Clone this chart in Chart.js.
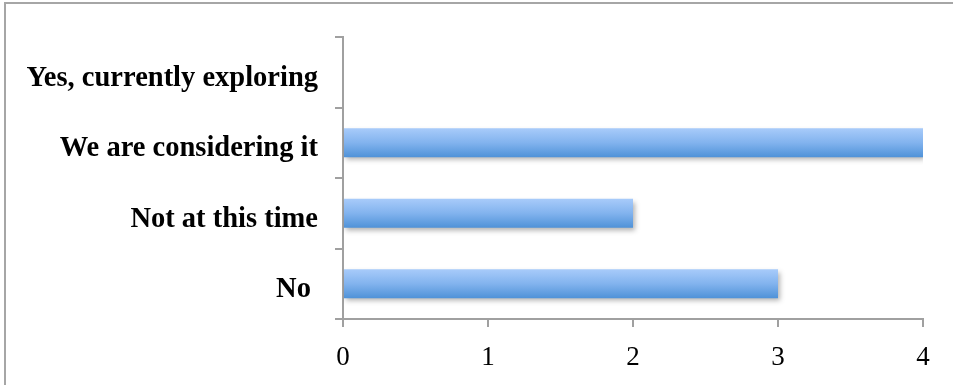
<!DOCTYPE html>
<html>
<head>
<meta charset="utf-8">
<script src="https://cdn.jsdelivr.net/npm/chart.js@4"></script>
<style>
  html, body { margin: 0; padding: 0; background: #fff; }
  #wrap { width: 953px; height: 385px; position: relative; }
</style>
</head>
<body>
<div id="wrap"><canvas id="myChart"></canvas></div>
<script>
// chart values
const categories = ['Yes, currently exploring', 'We are considering it', 'Not at this time', 'No '];
const counts = [0, 4, 2, 3];
const xTicks = [0, 1, 2, 3, 4];

const AXIS_GREY = '#a0a0a0';

// bar fill: vertical gradient per bar, light on top, darker at bottom
function barGradient(context) {
  const chart = context.chart;
  const yScale = chart.scales.y;
  if (!yScale || !chart.chartArea) return '#7fb0ea';
  const center = yScale.getPixelForValue(context.dataIndex);
  const half = (yScale.height / categories.length) * 0.41 / 2;
  const g = chart.ctx.createLinearGradient(0, center - half, 0, center + half);
  g.addColorStop(0, '#a8cbfa');
  g.addColorStop(0.5, '#82b3ee');
  g.addColorStop(1, '#4f92d8');
  return g;
}

// soft shadow under the bars
const barShadow = {
  id: 'barShadow',
  beforeDatasetsDraw(chart) {
    const ctx = chart.ctx;
    ctx.save();
    ctx.shadowColor = 'rgba(0,0,0,0.3)';
    ctx.shadowBlur = 5;
    ctx.shadowOffsetX = 2;
    ctx.shadowOffsetY = 3;
  },
  afterDatasetsDraw(chart) {
    chart.ctx.restore();
  }
};

// the outer frame (only left and top edge are in the picture)
const frame = {
  id: 'frame',
  afterDraw(chart) {
    const ctx = chart.ctx;
    ctx.save();
    ctx.strokeStyle = '#a6a6a6';
    ctx.lineWidth = 2;
    ctx.beginPath();
    ctx.moveTo(5, chart.height);
    ctx.lineTo(5, 3);
    ctx.lineTo(chart.width, 3);
    ctx.stroke();
    ctx.restore();
  }
};

const ctx = document.getElementById('myChart').getContext('2d');
const myChart = new Chart(ctx, {
  type: 'bar',
  data: {
    labels: categories,
    datasets: [{
      data: counts,
      backgroundColor: barGradient,
      borderWidth: 0,
      categoryPercentage: 0.41,
      barPercentage: 1
    }]
  },
  options: {
    indexAxis: 'y',
    responsive: true,
    maintainAspectRatio: false,
    animation: false,
    layout: { padding: { left: 0, top: 37, right: 30, bottom: 0 } },
    plugins: {
      legend: { display: false },
      tooltip: { enabled: false }
    },
    scales: {
      x: {
        type: 'linear',
        min: 0,
        max: 4,
        afterBuildTicks: (scale) => { scale.ticks = xTicks.map(v => ({ value: v })); },
        afterFit: (scale) => { scale.height = 66; },
        grid: { drawOnChartArea: false, drawTicks: true, tickLength: 8, color: AXIS_GREY, lineWidth: 2 },
        border: { color: AXIS_GREY, width: 2 },
        ticks: {
          color: '#000',
          padding: 15,
          font: { family: 'Liberation Serif', size: 27 }
        }
      },
      y: {
        afterFit: (scale) => { scale.width = 343; },
        grid: { drawOnChartArea: false, drawTicks: true, tickLength: 8, offset: true, color: AXIS_GREY, lineWidth: 2 },
        border: { color: AXIS_GREY, width: 2 },
        ticks: {
          color: '#000',
          padding: 17,
          labelOffset: 6,
          font: { family: 'Liberation Serif', size: 28.5, weight: 'bold' }
        }
      }
    }
  },
  plugins: [barShadow, frame]
});
</script>
</body>
</html>
